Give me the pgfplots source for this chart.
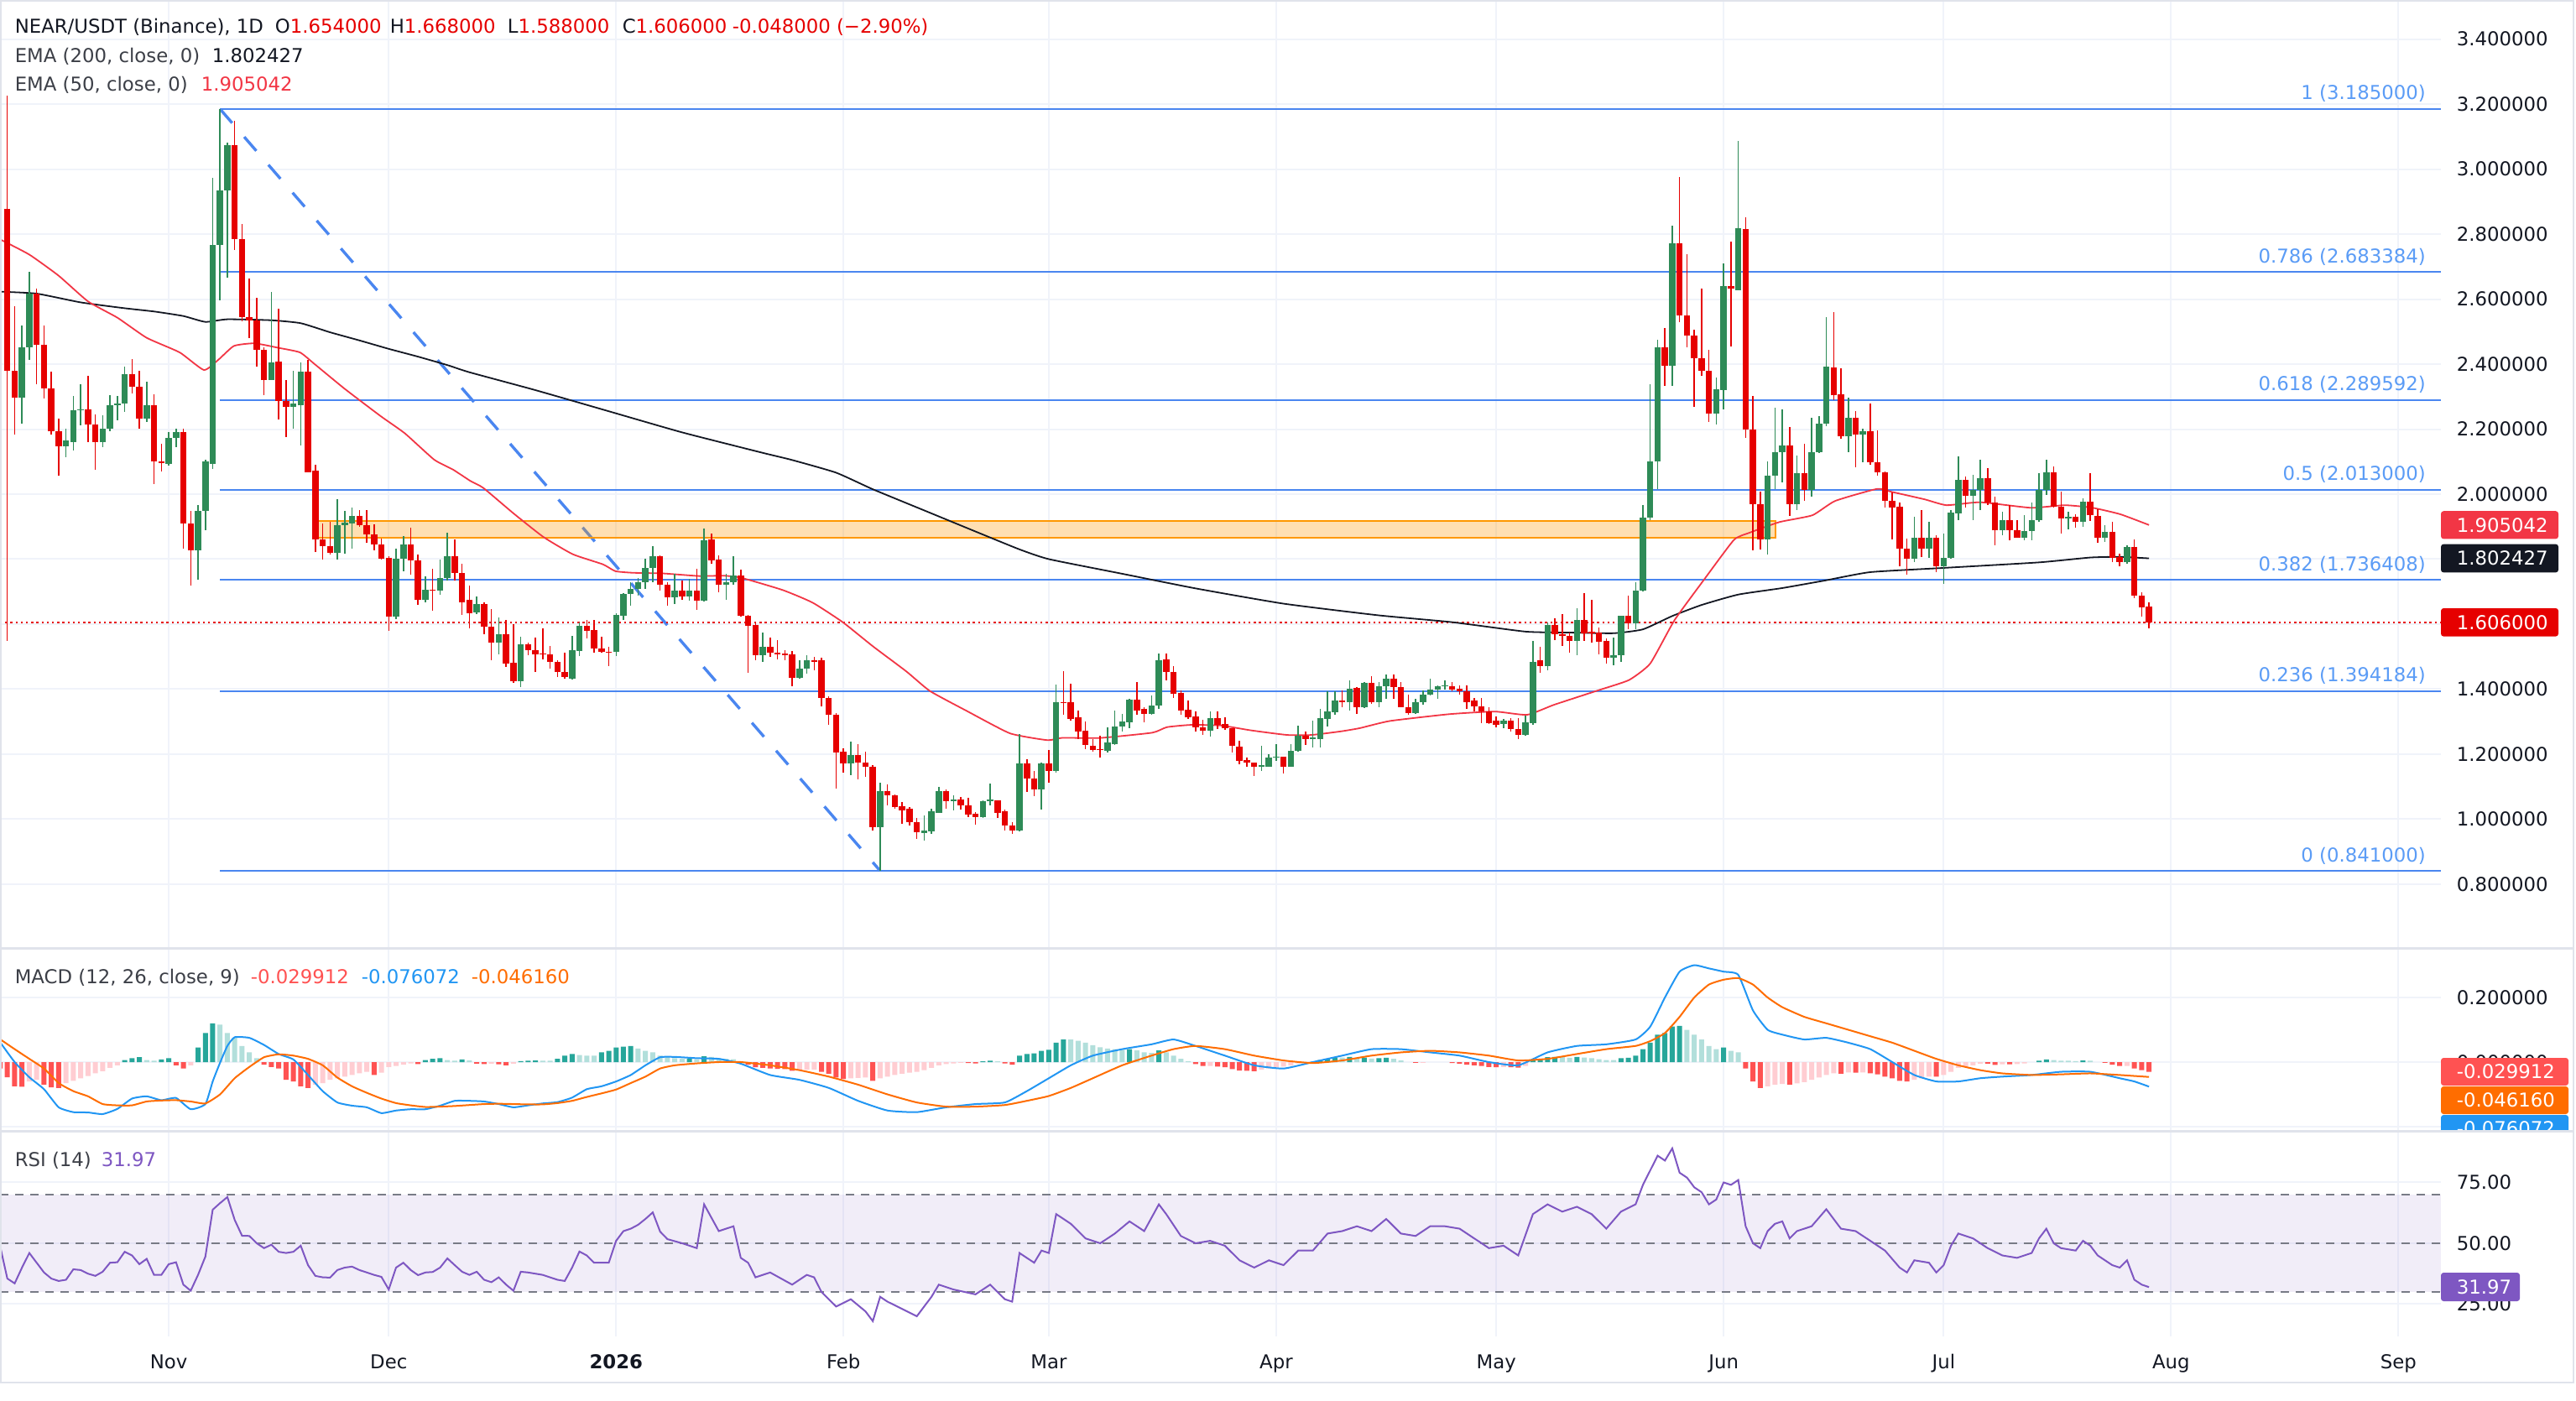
\documentclass[border=0pt]{standalone}
\usepackage{fontspec}
\setmainfont{DejaVu Sans}
\usepackage{pgfplots}
\usepackage{pgfplotstable}
\pgfplotsset{compat=1.18}
\definecolor{cgreen}{HTML}{2E8B57}
\definecolor{cred}{HTML}{E60000}
\definecolor{cfib}{HTML}{4A86F0}
\definecolor{cfibt}{HTML}{5B9CF6}
\definecolor{corange}{HTML}{FF9800}
\definecolor{cema50}{HTML}{F23645}
\definecolor{cema200}{HTML}{131722}
\definecolor{cgrid}{HTML}{F0F3FA}
\definecolor{cborder}{HTML}{E0E3EB}
\definecolor{ctext}{HTML}{131722}
\definecolor{clabel}{HTML}{3C3F47}
\definecolor{cmacd}{HTML}{2196F3}
\definecolor{csig}{HTML}{FF6D00}
\definecolor{hg}{HTML}{26A69A}
\definecolor{hlg}{HTML}{B2DFDB}
\definecolor{hr}{HTML}{FF5252}
\definecolor{hlr}{HTML}{FFCDD2}
\definecolor{crsi}{HTML}{7E57C2}
\definecolor{crsidash}{HTML}{787B86}
\newcommand\fnt{\fontsize{5.7pt}{6.8pt}\selectfont}

\pgfplotstableread{
d o h l c
-20 2.296 2.518 2.217 2.453
-19 2.453 2.683 2.414 2.618
-14 2.148 2.201 2.114 2.165
-13 2.161 2.302 2.133 2.257
-12 2.257 2.337 2.212 2.262
-9 2.159 2.242 2.145 2.201
-8 2.201 2.304 2.193 2.273
-7 2.273 2.302 2.226 2.279
-6 2.279 2.393 2.253 2.369
-3 2.232 2.346 2.223 2.273
0 2.094 2.190 2.088 2.173
1 2.173 2.201 2.145 2.191
4 1.828 1.967 1.738 1.948
5 1.948 2.105 1.889 2.100
6 2.094 2.972 2.077 2.767
7 2.767 3.185 2.596 2.935
8 2.935 3.081 2.666 3.073
14 2.352 2.623 2.350 2.405
17 2.268 2.380 2.201 2.279
18 2.273 2.405 2.150 2.377
23 1.819 1.985 1.799 1.904
24 1.904 1.948 1.816 1.911
25 1.909 1.959 1.833 1.934
31 1.623 1.833 1.615 1.802
32 1.802 1.870 1.763 1.844
35 1.676 1.747 1.668 1.707
37 1.702 1.799 1.691 1.743
38 1.743 1.881 1.735 1.808
42 1.636 1.685 1.631 1.663
45 1.543 1.620 1.507 1.569
48 1.425 1.560 1.407 1.537
55 1.433 1.563 1.430 1.519
56 1.517 1.606 1.502 1.594
61 1.514 1.634 1.502 1.629
62 1.627 1.696 1.614 1.692
63 1.692 1.729 1.657 1.709
64 1.709 1.741 1.687 1.729
65 1.729 1.801 1.709 1.774
66 1.774 1.840 1.729 1.810
69 1.683 1.756 1.661 1.703
71 1.686 1.739 1.672 1.703
73 1.672 1.894 1.670 1.858
76 1.720 1.755 1.675 1.730
77 1.729 1.808 1.722 1.749
81 1.505 1.574 1.485 1.531
86 1.436 1.488 1.433 1.464
87 1.464 1.505 1.448 1.489
93 1.172 1.238 1.136 1.198
97 0.975 1.112 0.841 1.086
103 0.958 1.011 0.934 0.965
104 0.962 1.031 0.954 1.023
105 1.020 1.100 1.018 1.085
107 1.056 1.074 1.026 1.060
111 1.006 1.057 1.003 1.055
112 1.055 1.109 1.043 1.060
116 0.964 1.262 0.962 1.171
119 1.092 1.173 1.029 1.171
121 1.148 1.414 1.143 1.361
128 1.210 1.283 1.206 1.236
129 1.232 1.335 1.227 1.285
130 1.285 1.324 1.270 1.301
131 1.297 1.371 1.279 1.368
134 1.325 1.380 1.320 1.350
135 1.350 1.509 1.339 1.490
142 1.273 1.331 1.253 1.311
149 1.162 1.225 1.149 1.166
150 1.162 1.201 1.161 1.190
151 1.190 1.230 1.180 1.193
153 1.162 1.232 1.160 1.210
154 1.210 1.288 1.207 1.257
156 1.247 1.302 1.221 1.251
157 1.247 1.339 1.221 1.311
158 1.309 1.394 1.285 1.331
159 1.328 1.394 1.322 1.365
161 1.361 1.426 1.333 1.402
163 1.345 1.423 1.343 1.420
165 1.359 1.422 1.344 1.409
166 1.409 1.444 1.369 1.432
170 1.327 1.369 1.323 1.361
171 1.361 1.397 1.352 1.384
172 1.384 1.432 1.380 1.399
173 1.399 1.412 1.371 1.409
174 1.409 1.428 1.399 1.412
182 1.293 1.308 1.280 1.304
185 1.260 1.318 1.257 1.298
186 1.296 1.549 1.289 1.485
188 1.470 1.606 1.458 1.597
192 1.549 1.648 1.505 1.612
197 1.496 1.559 1.473 1.505
198 1.505 1.627 1.483 1.625
200 1.602 1.729 1.584 1.703
201 1.703 1.967 1.701 1.929
202 1.927 2.337 1.919 2.100
203 2.100 2.474 2.015 2.451
205 2.396 2.825 2.332 2.772
211 2.249 2.358 2.214 2.322
212 2.320 2.709 2.261 2.639
214 2.626 3.086 2.626 2.817
218 1.860 2.100 1.813 2.058
219 2.058 2.265 2.015 2.128
220 2.128 2.261 2.037 2.151
222 1.970 2.119 1.952 2.065
224 2.012 2.236 1.993 2.128
225 2.128 2.240 2.126 2.218
226 2.218 2.544 2.210 2.392
229 2.178 2.298 2.128 2.236
231 2.184 2.202 2.098 2.193
238 1.800 1.930 1.790 1.867
240 1.833 1.915 1.805 1.865
242 1.779 1.878 1.724 1.805
243 1.803 1.951 1.800 1.943
244 1.941 2.116 1.919 2.044
246 1.995 2.059 1.921 2.014
247 2.014 2.107 1.952 2.050
250 1.889 1.945 1.874 1.919
253 1.867 1.936 1.859 1.886
254 1.886 1.975 1.859 1.921
255 1.921 2.064 1.915 2.012
256 2.012 2.107 1.997 2.066
259 1.926 1.947 1.892 1.930
261 1.915 1.988 1.900 1.978
264 1.866 1.904 1.852 1.883
267 1.790 1.843 1.786 1.837
}\greenC

\pgfplotstableread{
d o h l c
-22 2.877 3.226 1.548 2.380
-21 2.380 2.578 2.184 2.296
-18 2.618 2.632 2.339 2.459
-17 2.459 2.520 2.293 2.324
-16 2.324 2.378 2.182 2.193
-15 2.193 2.232 2.057 2.148
-11 2.262 2.363 2.161 2.215
-10 2.215 2.245 2.075 2.159
-5 2.369 2.416 2.311 2.330
-4 2.330 2.380 2.201 2.232
-2 2.273 2.307 2.030 2.100
-1 2.100 2.156 2.069 2.096
2 2.191 2.201 1.831 1.909
3 1.909 1.948 1.719 1.828
9 3.073 3.148 2.750 2.784
10 2.786 2.832 2.531 2.545
11 2.545 2.664 2.481 2.534
12 2.534 2.604 2.393 2.445
13 2.445 2.453 2.305 2.352
15 2.408 2.571 2.231 2.287
16 2.287 2.352 2.176 2.268
19 2.377 2.414 2.066 2.068
20 2.072 2.091 1.822 1.861
21 1.861 1.909 1.799 1.840
22 1.840 1.915 1.814 1.819
26 1.934 1.952 1.899 1.904
27 1.904 1.952 1.851 1.876
28 1.876 1.907 1.828 1.845
29 1.846 1.864 1.799 1.800
30 1.805 1.808 1.580 1.623
33 1.844 1.898 1.752 1.795
34 1.795 1.814 1.660 1.676
36 1.707 1.769 1.640 1.704
39 1.808 1.861 1.735 1.758
40 1.758 1.786 1.629 1.668
41 1.675 1.718 1.586 1.634
43 1.663 1.668 1.569 1.591
44 1.591 1.646 1.489 1.543
46 1.569 1.614 1.468 1.479
47 1.481 1.600 1.419 1.425
49 1.537 1.543 1.505 1.519
50 1.521 1.558 1.453 1.508
51 1.510 1.586 1.491 1.507
52 1.508 1.532 1.464 1.483
53 1.485 1.488 1.438 1.453
54 1.453 1.511 1.433 1.438
57 1.594 1.614 1.557 1.580
58 1.582 1.612 1.513 1.524
59 1.524 1.560 1.513 1.515
60 1.515 1.531 1.470 1.512
67 1.810 1.812 1.703 1.720
68 1.722 1.729 1.657 1.683
70 1.703 1.735 1.675 1.686
72 1.703 1.769 1.644 1.672
74 1.860 1.879 1.786 1.797
75 1.799 1.812 1.698 1.720
78 1.749 1.767 1.623 1.625
79 1.627 1.629 1.451 1.594
80 1.597 1.606 1.489 1.505
82 1.531 1.558 1.498 1.511
83 1.511 1.551 1.491 1.508
84 1.509 1.520 1.489 1.506
85 1.507 1.517 1.410 1.436
88 1.489 1.500 1.459 1.486
89 1.489 1.496 1.347 1.373
90 1.373 1.377 1.291 1.321
91 1.321 1.327 1.093 1.205
92 1.207 1.218 1.143 1.172
94 1.198 1.230 1.123 1.175
95 1.175 1.207 1.129 1.160
96 1.160 1.166 0.966 0.975
98 1.086 1.106 1.043 1.074
99 1.074 1.076 1.031 1.037
100 1.040 1.052 0.986 1.026
101 1.031 1.037 0.981 0.992
102 0.992 1.003 0.938 0.960
106 1.085 1.092 1.031 1.056
108 1.060 1.068 1.029 1.043
109 1.043 1.066 1.005 1.014
110 1.017 1.023 0.983 1.007
113 1.057 1.059 1.003 1.020
114 1.023 1.029 0.966 0.981
115 0.981 0.992 0.954 0.964
117 1.171 1.184 1.083 1.126
118 1.126 1.147 1.072 1.092
120 1.171 1.214 1.112 1.148
122 1.361 1.456 1.320 1.358
123 1.359 1.417 1.302 1.307
124 1.313 1.333 1.247 1.270
125 1.272 1.301 1.216 1.227
126 1.225 1.245 1.207 1.213
127 1.216 1.256 1.190 1.213
132 1.368 1.423 1.320 1.335
133 1.339 1.344 1.299 1.325
136 1.492 1.509 1.426 1.452
137 1.452 1.471 1.374 1.385
138 1.388 1.395 1.322 1.335
139 1.337 1.365 1.309 1.313
140 1.316 1.331 1.270 1.282
141 1.283 1.305 1.259 1.273
143 1.311 1.331 1.277 1.290
144 1.292 1.313 1.275 1.279
145 1.279 1.279 1.204 1.225
146 1.223 1.240 1.169 1.180
147 1.182 1.190 1.162 1.173
148 1.175 1.175 1.132 1.162
152 1.193 1.193 1.141 1.162
155 1.257 1.270 1.227 1.247
160 1.365 1.396 1.345 1.362
162 1.404 1.406 1.325 1.345
164 1.420 1.440 1.354 1.359
167 1.432 1.444 1.371 1.407
168 1.407 1.422 1.344 1.344
169 1.344 1.384 1.321 1.327
175 1.409 1.422 1.394 1.399
176 1.401 1.412 1.382 1.394
177 1.394 1.412 1.340 1.361
178 1.365 1.374 1.331 1.346
179 1.348 1.374 1.295 1.331
180 1.331 1.344 1.293 1.295
181 1.302 1.317 1.283 1.289
183 1.302 1.311 1.270 1.276
184 1.276 1.312 1.247 1.260
187 1.488 1.530 1.450 1.470
189 1.597 1.619 1.551 1.568
190 1.568 1.631 1.534 1.565
191 1.564 1.574 1.511 1.549
193 1.612 1.695 1.549 1.572
194 1.576 1.674 1.543 1.572
195 1.574 1.589 1.508 1.547
196 1.547 1.555 1.479 1.496
199 1.625 1.688 1.584 1.602
204 2.451 2.510 2.332 2.396
206 2.772 2.977 2.528 2.550
207 2.550 2.738 2.451 2.487
208 2.487 2.506 2.269 2.417
209 2.417 2.633 2.363 2.379
210 2.379 2.443 2.223 2.249
213 2.639 2.776 2.455 2.633
215 2.817 2.852 2.173 2.198
216 2.198 2.303 1.828 1.970
217 1.970 2.008 1.830 1.860
221 2.151 2.206 1.932 1.970
223 2.065 2.155 1.980 2.012
227 2.391 2.561 2.290 2.305
228 2.307 2.387 2.171 2.178
230 2.236 2.255 2.083 2.184
232 2.193 2.278 2.091 2.098
233 2.098 2.197 2.057 2.067
234 2.067 2.070 1.960 1.979
235 1.979 2.005 1.861 1.960
236 1.962 1.975 1.777 1.833
237 1.833 1.863 1.751 1.800
239 1.867 1.951 1.807 1.833
241 1.865 1.874 1.760 1.777
245 2.044 2.055 1.958 1.995
248 2.050 2.081 1.966 1.975
249 1.975 1.992 1.843 1.889
251 1.919 1.966 1.859 1.889
252 1.889 1.921 1.866 1.867
257 2.066 2.085 1.960 1.962
258 1.962 2.007 1.878 1.926
260 1.930 1.938 1.898 1.915
262 1.978 2.064 1.917 1.936
263 1.934 1.954 1.850 1.866
265 1.883 1.916 1.792 1.803
266 1.807 1.816 1.777 1.790
268 1.837 1.861 1.680 1.688
269 1.688 1.697 1.624 1.652
270 1.654 1.668 1.588 1.606
}\redC

\pgfplotsset{
  tvaxis/.style={scale only axis, width=727.25pt, xmin=-23, xmax=309.8,
    axis line style={draw=none}, major tick length=0pt, tick style={draw=none},
    xtick={0,30,61,92,120,151,181,212,242,273,304},
    xmajorgrids, ymajorgrids, grid style={draw=cgrid, line width=0.5pt},
    yticklabel pos=right,
    yticklabel style={anchor=west, inner sep=0pt, xshift=4.5pt, font=\fnt, text=ctext}},
  wick/.style={draw=none, mark=none, forget plot, error bars/.cd, y dir=both, y explicit, error mark=none, error bar style={line width=0.375pt, draw=#1}},
  body/.style={draw=none, mark=none, forget plot, error bars/.cd, y dir=both, y explicit, error mark=none, error bar style={line width=1.875pt, draw=#1}},
  hbar/.style={ybar, bar width=1.5pt, bar shift=0pt, draw=none, fill=#1, forget plot}
}

\begin{document}
\begin{tikzpicture}
\useasboundingbox (0,0) rectangle (767.5pt,-417.25pt);
\fill[white] (0,0) rectangle (767.5pt,-417.25pt);

% ---------------- main price panel
\begin{axis}[tvaxis, at={(0pt,0pt)}, anchor=north west, height=282.5pt,
  ymin=0.6035, ymax=3.5204, xticklabels={},
  ytick={0.8,1.0,1.2,1.4,1.6,1.8,2.0,2.2,2.4,2.6,2.8,3.0,3.2,3.4},
  yticklabels={0.800000,1.000000,1.200000,1.400000,1.600000,1.800000,2.000000,2.200000,2.400000,2.600000,2.800000,3.000000,3.200000,3.400000}]
\addplot[cfib, line width=0.85pt, dash pattern=on 5.5pt off 5.5pt] coordinates {(7,3.185) (97,0.841)};
\draw[corange, line width=0.5pt, fill=corange, fill opacity=0.3] (axis cs:20.3,1.865) rectangle (axis cs:219.1,1.917);
\foreach \lv/\lab in {3.185/1 (3.185000), 2.683384/0.786 (2.683384), 2.289592/0.618 (2.289592), 2.013/0.5 (2.013000), 1.736408/0.382 (1.736408), 1.394184/0.236 (1.394184), 0.841/0 (0.841000)}{
  \edef\tmp{\noexpand\addplot[cfib, line width=0.45pt] coordinates {(7,\lv) (309.8,\lv)};}\tmp
  \edef\tmp{\noexpand\node[anchor=base east, inner sep=0pt, font=\noexpand\fnt, text=cfibt] at (axis cs:307.8,\lv) [yshift=2.75pt] {\lab};}\tmp
}
\addplot[cred, line width=0.45pt, dash pattern=on 0.6pt off 0.95pt] coordinates {(-23,1.606) (309.8,1.606)};
\addplot[cema200, line width=0.45pt, smooth, tension=0.3] coordinates {
(-23,2.623) (-18,2.617) (-12,2.590) (-6,2.572) (-2,2.562) (2,2.548) (5,2.530) (8,2.538) (14,2.535) (18,2.526)
(22,2.498) (26,2.473) (30,2.447) (34,2.423) (38,2.397) (41,2.375) (50,2.320) (60,2.255) (70,2.190) (81,2.127)
(85,2.105) (91,2.066) (96,2.015) (103,1.950) (110,1.885) (116,1.830) (120,1.800) (130,1.755) (140,1.710) (152,1.663)
(165,1.627) (175,1.606) (185,1.577) (191,1.574) (197,1.572) (201,1.584) (205,1.625) (209,1.659) (214,1.691) (220,1.711)
(226,1.735) (232,1.760) (242,1.773) (255,1.790) (262,1.805) (266,1.807) (270,1.8024)};
\addplot[cema50, line width=0.45pt, smooth, tension=0.3] coordinates {
(-23,2.784) (-19,2.737) (-15,2.672) (-11,2.593) (-7,2.543) (-3,2.481) (1.5,2.436) (4.8,2.382) (6.8,2.414) (8.9,2.456)
(11.7,2.464) (15,2.450) (17.9,2.436) (19.9,2.400) (24,2.324) (28.9,2.240) (32.2,2.187) (36.2,2.106) (38.8,2.075) (41.1,2.041)
(42.9,2.019) (47,1.941) (51.1,1.868) (55.1,1.815) (59.2,1.784) (60.9,1.763) (63.3,1.758) (67.4,1.756) (72.3,1.748) (75.6,1.749)
(78,1.743) (83.7,1.705) (87.8,1.666) (91.9,1.606) (96,1.532) (100.6,1.454) (103.8,1.394) (108.8,1.333) (114.7,1.264) (119.8,1.243)
(121.8,1.250) (127.1,1.250) (134.1,1.266) (136.1,1.283) (139.4,1.290) (143.5,1.288) (147.6,1.273) (152.5,1.259) (155.8,1.259) (159.8,1.270)
(162.4,1.280) (166.5,1.302) (174.6,1.323) (180.8,1.331) (185.2,1.321) (188.9,1.352) (195,1.397) (199.1,1.428) (202,1.479) (205.3,1.612)
(209.4,1.739) (213.4,1.859) (215.5,1.881) (219.6,1.914) (224.1,1.935) (227.2,1.979) (232.9,2.016) (234.9,2.007) (239.4,1.984) (242.4,1.966)
(247,1.975) (253.9,1.958) (258.5,1.966) (262.3,1.958) (266.1,1.938) (270,1.905)};
\addplot[wick=cgreen] table[x=d, y expr={(\thisrow{h}+\thisrow{l})/2}, y error expr={(\thisrow{h}-\thisrow{l})/2}] {\greenC};
\addplot[body=cgreen] table[x=d, y expr={(\thisrow{o}+\thisrow{c})/2}, y error expr={max(abs(\thisrow{o}-\thisrow{c})/2,0.0015)}] {\greenC};
\addplot[wick=cred] table[x=d, y expr={(\thisrow{h}+\thisrow{l})/2}, y error expr={(\thisrow{h}-\thisrow{l})/2}] {\redC};
\addplot[body=cred] table[x=d, y expr={(\thisrow{o}+\thisrow{c})/2}, y error expr={max(abs(\thisrow{o}-\thisrow{c})/2,0.0015)}] {\redC};
\end{axis}

% ---------------- MACD panel
\begin{axis}[tvaxis, at={(0pt,-282.5pt)}, anchor=north west, height=54.5pt,
  ymin=-0.2130, ymax=0.3532, xticklabels={},
  ytick={-0.2,0,0.2}, yticklabels={,0.000000,0.200000}]
\addplot[hbar=hg] coordinates {(-6,.006) (-5,.012) (-4,.015) (-1,.008) (0,.012) (4,.045) (5,.09) (6,.12) (35,.006) (36,.01) (37,.012) (40,.008) (48,.003) (49,.004) (50,.005) (53,.01) (54,.02) (55,.025) (59,.03) (60,.035) (61,.045) (62,.048) (63,.05) (71,.01) (73,.018) (111,.002) (112,.004) (116,.02) (117,.025) (118,.027) (119,.035) (120,.038) (121,.06) (122,.07) (131,.04) (135,.036) (156,.001) (157,.006) (158,.01) (159,.014) (161,.016) (163,.014) (165,.012) (166,.013) (186,.005) (187,.008) (188,.015) (189,.016) (192,.016) (198,.012) (199,.013) (200,.02) (201,.04) (202,.06) (203,.085) (204,.09) (205,.11) (206,.112) (212,.045) (255,.004) (256,.008) (261,.005)};
\addplot[hbar=hlg] coordinates {(-3,.006) (-2,.004) (7,.116) (8,.09) (9,.075) (10,.05) (11,.03) (12,.012) (38,.006) (39,.004) (41,.005) (51,.004) (52,.004) (56,.022) (57,.02) (58,.02) (64,.042) (65,.035) (66,.03) (67,.02) (68,.015) (69,.012) (70,.01) (72,.008) (74,.016) (75,.012) (76,.01) (77,.009) (78,.002) (113,.002) (123,.07) (124,.066) (125,.06) (126,.052) (127,.046) (128,.042) (129,.04) (130,.038) (132,.036) (133,.03) (134,.028) (136,.03) (137,.02) (138,.01) (139,.002) (160,.014) (162,.012) (164,.011) (167,.01) (168,.005) (190,.015) (191,.013) (193,.014) (194,.012) (195,.009) (196,.006) (197,.006) (207,.1) (208,.085) (209,.07) (210,.05) (211,.04) (213,.035) (214,.03) (257,.006) (258,.004) (259,.004) (260,.003) (262,.004)};
\addplot[hbar=hr] coordinates {(-23,-.02) (-22,-.047) (-21,-.075) (-20,-.076) (-17,-.07) (-16,-.078) (-15,-.08) (1,-.01) (2,-.02) (13,-.008) (14,-.015) (15,-.02) (16,-.055) (17,-.06) (18,-.075) (19,-.08) (28,-.04) (34,-.006) (42,-.005) (43,-.006) (45,-.007) (46,-.01) (79,-.008) (80,-.016) (81,-.018) (82,-.02) (83,-.021) (84,-.022) (85,-.027) (89,-.03) (90,-.036) (91,-.048) (92,-.052) (96,-.058) (109,-.003) (110,-.004) (114,-.004) (115,-.008) (140,-.006) (141,-.012) (143,-.014) (144,-.016) (145,-.022) (146,-.026) (147,-.027) (148,-.028) (170,-.002) (175,-.003) (176,-.005) (177,-.008) (178,-.01) (179,-.012) (180,-.015) (181,-.016) (183,-.016) (184,-.017) (215,-.02) (216,-.06) (217,-.08) (221,-.07) (228,-.036) (230,-.033) (232,-.035) (233,-.038) (234,-.045) (235,-.05) (236,-.058) (237,-.06) (241,-.045) (248,-.005) (249,-.009) (251,-.007) (264,-.002) (265,-.008) (266,-.012) (268,-.02) (269,-.025) (270,-.03)};
\addplot[hbar=hlr] coordinates {(-19,-.06) (-18,-.055) (-14,-.065) (-13,-.058) (-12,-.05) (-11,-.043) (-10,-.035) (-9,-.028) (-8,-.018) (-7,-.01) (3,-.01) (20,-.07) (21,-.065) (22,-.055) (23,-.05) (24,-.045) (25,-.04) (26,-.035) (27,-.03) (29,-.033) (30,-.015) (31,-.012) (32,-.008) (33,-.004) (44,-.005) (47,-.005) (86,-.026) (87,-.024) (88,-.023) (93,-.05) (94,-.049) (95,-.048) (97,-.05) (98,-.045) (99,-.04) (100,-.036) (101,-.033) (102,-.03) (103,-.025) (104,-.018) (105,-.01) (106,-.006) (107,-.004) (108,-.002) (142,-.012) (149,-.024) (150,-.02) (151,-.016) (152,-.014) (153,-.01) (154,-.004) (155,-.002) (171,-.002) (182,-.015) (185,-.012) (218,-.075) (219,-.07) (220,-.068) (222,-.066) (223,-.062) (224,-.055) (225,-.048) (226,-.04) (227,-.035) (229,-.032) (231,-.032) (238,-.055) (239,-.05) (240,-.045) (242,-.04) (243,-.03) (244,-.018) (245,-.014) (246,-.01) (247,-.005) (250,-.007) (252,-.006) (253,-.004) (267,-.012)};
\addplot[cmacd, line width=0.5pt, smooth, tension=0.3] coordinates {
(-23,0.062) (-21,0.0) (-19,-0.047) (-17,-0.084) (-15,-0.14) (-13,-0.155) (-11,-0.156) (-9,-0.161) (-7,-0.145) (-5,-0.113)
(-3,-0.106) (-1,-0.118) (1,-0.111) (3,-0.146) (5,-0.13) (6,-0.06) (7,-0.002) (8,0.05) (9,0.077) (11,0.075) (13,0.053) (15,0.025)
(17,0.008) (19,-0.04) (21,-0.09) (23,-0.125) (25,-0.135) (27,-0.14) (29,-0.158) (31,-0.15) (33,-0.146) (35,-0.146) (37,-0.135)
(39,-0.12) (41,-0.12) (43,-0.122) (45,-0.13) (47,-0.14) (49,-0.134) (51,-0.128) (53,-0.124) (55,-0.11) (57,-0.084) (59,-0.075)
(61,-0.06) (63,-0.04) (65,-0.01) (67,0.015) (69,0.016) (72,0.012) (75,0.01) (78,-0.005) (82,-0.04) (86,-0.055) (90,-0.08)
(94,-0.12) (98,-0.15) (102,-0.155) (106,-0.14) (110,-0.13) (114,-0.125) (117,-0.09) (120,-0.05) (123,-0.01) (126,0.02) (130,0.04)
(134,0.055) (137,0.07) (140,0.05) (144,0.02) (148,-0.01) (152,-0.02) (156,0.0) (160,0.02) (164,0.04) (168,0.04) (172,0.03)
(176,0.02) (180,0.0) (184,-0.01) (188,0.03) (192,0.05) (196,0.055) (200,0.07) (202,0.11) (204,0.2) (206,0.28) (208,0.3)
(210,0.29) (212,0.28) (214,0.27) (216,0.16) (218,0.1) (220,0.085) (223,0.07) (226,0.075) (229,0.06) (232,0.04) (235,0.0)
(238,-0.04) (241,-0.06) (244,-0.06) (247,-0.05) (250,-0.045) (254,-0.04) (258,-0.03) (262,-0.03) (266,-0.05) (268,-0.06) (270,-0.076)};
\addplot[csig, line width=0.5pt, smooth, tension=0.3] coordinates {
(-23,0.071) (-21,0.04) (-19,0.01) (-17,-0.02) (-15,-0.065) (-13,-0.09) (-11,-0.106) (-9,-0.13) (-7,-0.134) (-5,-0.134)
(-3,-0.122) (-1,-0.119) (1,-0.118) (3,-0.122) (5,-0.128) (7,-0.10) (9,-0.05) (11,-0.015) (13,0.015) (15,0.024) (17,0.02)
(19,0.01) (21,-0.01) (23,-0.048) (25,-0.075) (27,-0.095) (29,-0.113) (31,-0.127) (33,-0.134) (35,-0.139) (37,-0.138) (39,-0.136)
(41,-0.133) (43,-0.13) (45,-0.129) (47,-0.13) (49,-0.131) (51,-0.131) (53,-0.127) (55,-0.12) (57,-0.108) (59,-0.097) (61,-0.085)
(63,-0.065) (65,-0.045) (67,-0.02) (69,-0.01) (72,-0.004) (75,0.0) (78,0.0) (82,-0.01) (86,-0.025) (90,-0.045) (94,-0.07)
(98,-0.1) (102,-0.125) (106,-0.138) (110,-0.138) (114,-0.133) (117,-0.12) (120,-0.105) (123,-0.08) (126,-0.05) (130,-0.01)
(134,0.02) (137,0.04) (140,0.05) (144,0.04) (148,0.02) (152,0.005) (156,-0.003) (160,0.005) (164,0.02) (168,0.03) (172,0.035)
(176,0.03) (180,0.02) (184,0.005) (188,0.01) (192,0.025) (196,0.04) (200,0.05) (202,0.065) (204,0.09) (206,0.14) (208,0.2)
(210,0.24) (212,0.255) (214,0.26) (216,0.24) (218,0.2) (220,0.17) (223,0.14) (226,0.12) (229,0.1) (232,0.08) (235,0.06)
(238,0.035) (241,0.01) (244,-0.01) (247,-0.025) (250,-0.035) (254,-0.04) (258,-0.038) (262,-0.035) (266,-0.04) (268,-0.043) (270,-0.046)};
\end{axis}

% ---------------- RSI panel
\begin{axis}[tvaxis, at={(0pt,-337pt)}, anchor=north west, height=61.25pt,
  ymin=11.72, ymax=96.2, ytick={25,50,75}, yticklabels={25.00,50.00,75.00},
  xticklabels={Nov,Dec,\textbf{2026},Feb,Mar,Apr,May,Jun,Jul,Aug,Sep},
  xticklabel style={anchor=base, inner sep=0pt, yshift=-9.75pt, font=\fnt, text=ctext}]
\fill[crsi, fill opacity=0.1] (axis cs:-23,30) rectangle (axis cs:309.8,70);
\addplot[crsidash, line width=0.5pt, dash pattern=on 2.5pt off 2pt] coordinates {(-23,70) (309.8,70)};
\addplot[crsidash, line width=0.5pt, dash pattern=on 2.5pt off 2pt] coordinates {(-23,50) (309.8,50)};
\addplot[crsidash, line width=0.5pt, dash pattern=on 2.5pt off 2pt] coordinates {(-23,30) (309.8,30)};
\addplot[crsi, line width=0.5pt] coordinates {
(-23,49) (-22,35.5) (-21,33.5) (-20,40) (-19,46) (-18,42) (-17,38) (-16,35.5) (-15,34.5) (-14,35) (-13,39.3) (-12,39) (-11,37.5)
(-10,36.6) (-9,38.3) (-8,42) (-7,42.2) (-6,46.5) (-5,45) (-4,41.4) (-3,43.6) (-2,37) (-1,37) (0,41.4) (1,42.2) (2,33) (3,30.5)
(4,37) (5,44.5) (6,63.8) (7,66.5) (8,69) (9,59.6) (10,53.1) (11,53) (12,50) (13,48) (14,49.4) (15,46.5) (16,46) (17,46.5) (18,49)
(19,41) (20,36.6) (21,36) (22,35.9) (23,39) (24,40) (25,40.4) (26,39) (27,38) (28,37) (29,36.2) (30,31) (31,40) (32,42) (33,39)
(34,36.9) (35,38) (36,38.2) (37,40) (38,43.8) (39,41) (40,38.3) (41,37) (42,38.3) (43,35) (44,34) (45,36) (46,33) (47,30.5)
(48,38.3) (49,38) (50,37.5) (51,37) (52,36) (53,35) (54,34.5) (55,40) (56,46.6) (57,45) (58,42) (59,42) (60,42) (61,51) (62,55)
(63,56) (64,57.6) (65,60) (66,62.7) (67,54.8) (68,51.7) (70,50) (72,48) (73,66) (75,55) (77,57) (78,44) (79,42) (80,36) (82,38)
(85,33) (87,37) (88,36) (89,30) (91,24) (93,27) (95,22) (96,18) (97,28) (98,26) (100,23) (102,20) (104,28) (105,33) (107,31)
(110,29) (112,33) (114,27) (115,26) (116,46) (118,42) (119,47) (120,46) (121,62) (123,58) (125,52) (127,50) (129,54) (131,59)
(133,55) (135,66) (136,62) (138,53) (140,50) (142,51) (144,49) (146,43) (148,40) (150,43) (152,41) (154,47) (156,47) (158,54)
(160,55) (162,57) (164,55) (166,60) (168,54) (170,53) (172,57) (174,57) (176,56) (178,52) (180,48) (182,49) (184,45) (186,62)
(188,66) (190,63) (192,65) (194,62) (196,56) (198,63) (200,66) (201,74) (202,80) (203,86) (204,84) (205,89) (206,79) (207,77)
(208,73) (209,71) (210,66) (211,68) (212,75) (213,74) (214,76) (215,57) (216,50) (217,48) (218,55) (219,58) (220,59) (221,52)
(222,55) (224,57) (226,64) (227,60) (228,56) (230,55) (232,51) (234,47) (236,40) (237,38) (238,43) (240,42) (241,38) (242,41)
(243,49) (244,54) (246,52) (248,48) (250,45) (252,44) (254,46) (255,52) (256,56) (257,50) (258,48) (260,47) (261,51) (262,49)
(263,45) (265,41) (266,40) (267,43) (268,35) (269,33) (270,31.97)};
\end{axis}

% ---------------- frame and separators
\draw[cborder, line width=0.6pt] (0.25pt,-0.25pt) rectangle (766.75pt,-412pt);
\draw[cborder, line width=0.75pt] (0.25pt,-282.5pt) -- (766.75pt,-282.5pt);
\draw[cborder, line width=0.75pt] (0.25pt,-337pt) -- (766.75pt,-337pt);

% ---------------- legends
\begin{scope}[every node/.style={anchor=base west, inner sep=0pt, font=\fnt}]
\node[text=ctext] at (4.25pt,-10pt) {NEAR/USDT (Binance), 1D};
\node[text=ctext] at (81.75pt,-10pt) {O\textcolor{cred}{1.654000}};
\node[text=ctext] at (116pt,-10pt) {H\textcolor{cred}{1.668000}};
\node[text=ctext] at (151pt,-10pt) {L\textcolor{cred}{1.588000}};
\node[text=ctext] at (185.25pt,-10pt) {C\textcolor{cred}{1.606000}};
\node[text=cred] at (218pt,-10pt) {-0.048000 (−2.90\%)};
\node[text=clabel] at (4.25pt,-18.75pt) {EMA (200, close, 0)};
\node[text=ctext] at (63pt,-18.75pt) {1.802427};
\node[text=clabel] at (4.25pt,-27.25pt) {EMA (50, close, 0)};
\node[text=cema50] at (59.75pt,-27.25pt) {1.905042};
\node[text=clabel] at (4.25pt,-293pt) {MACD (12, 26, close, 9)};
\node[text=hr] at (74.5pt,-293pt) {-0.029912};
\node[text=cmacd] at (107.5pt,-293pt) {-0.076072};
\node[text=csig] at (140.25pt,-293pt) {-0.046160};
\node[text=clabel] at (4.25pt,-347.5pt) {RSI (14)};
\node[text=crsi] at (30pt,-347.5pt) {31.97};
\end{scope}

% ---------------- right-side value boxes
\begin{scope}[every node/.style={anchor=west, inner sep=0pt, font=\fnt, text=white}]
\fill[cema50, rounded corners=0.8pt] (727.25pt,-152.3pt) rectangle (762.25pt,-160.6pt);
\node at (731.75pt,-156.45pt) {1.905042};
\fill[cema200, rounded corners=0.8pt] (727.25pt,-162.15pt) rectangle (762.25pt,-170.6pt);
\node at (731.75pt,-166.4pt) {1.802427};
\fill[cred, rounded corners=0.8pt] (727.25pt,-181.25pt) rectangle (762.25pt,-189.65pt);
\node at (731.75pt,-185.45pt) {1.606000};
\fill[hr, rounded corners=0.8pt] (727.25pt,-315.25pt) rectangle (765.25pt,-323.5pt);
\node at (731.75pt,-319.4pt) {-0.029912};
\fill[csig, rounded corners=0.8pt] (727.25pt,-323.75pt) rectangle (765.25pt,-332pt);
\node at (731.75pt,-327.9pt) {-0.046160};
\begin{scope}
\clip (727pt,-332.2pt) rectangle (767pt,-336.6pt);
\fill[cmacd, rounded corners=0.8pt] (727.25pt,-332.25pt) rectangle (765.25pt,-340.5pt);
\node at (731.75pt,-336.4pt) {-0.076072};
\end{scope}
\fill[crsi, rounded corners=0.8pt] (727.25pt,-379.25pt) rectangle (750.75pt,-387.75pt);
\node at (731.75pt,-383.5pt) {31.97};
\end{scope}
\end{tikzpicture}
\end{document}
